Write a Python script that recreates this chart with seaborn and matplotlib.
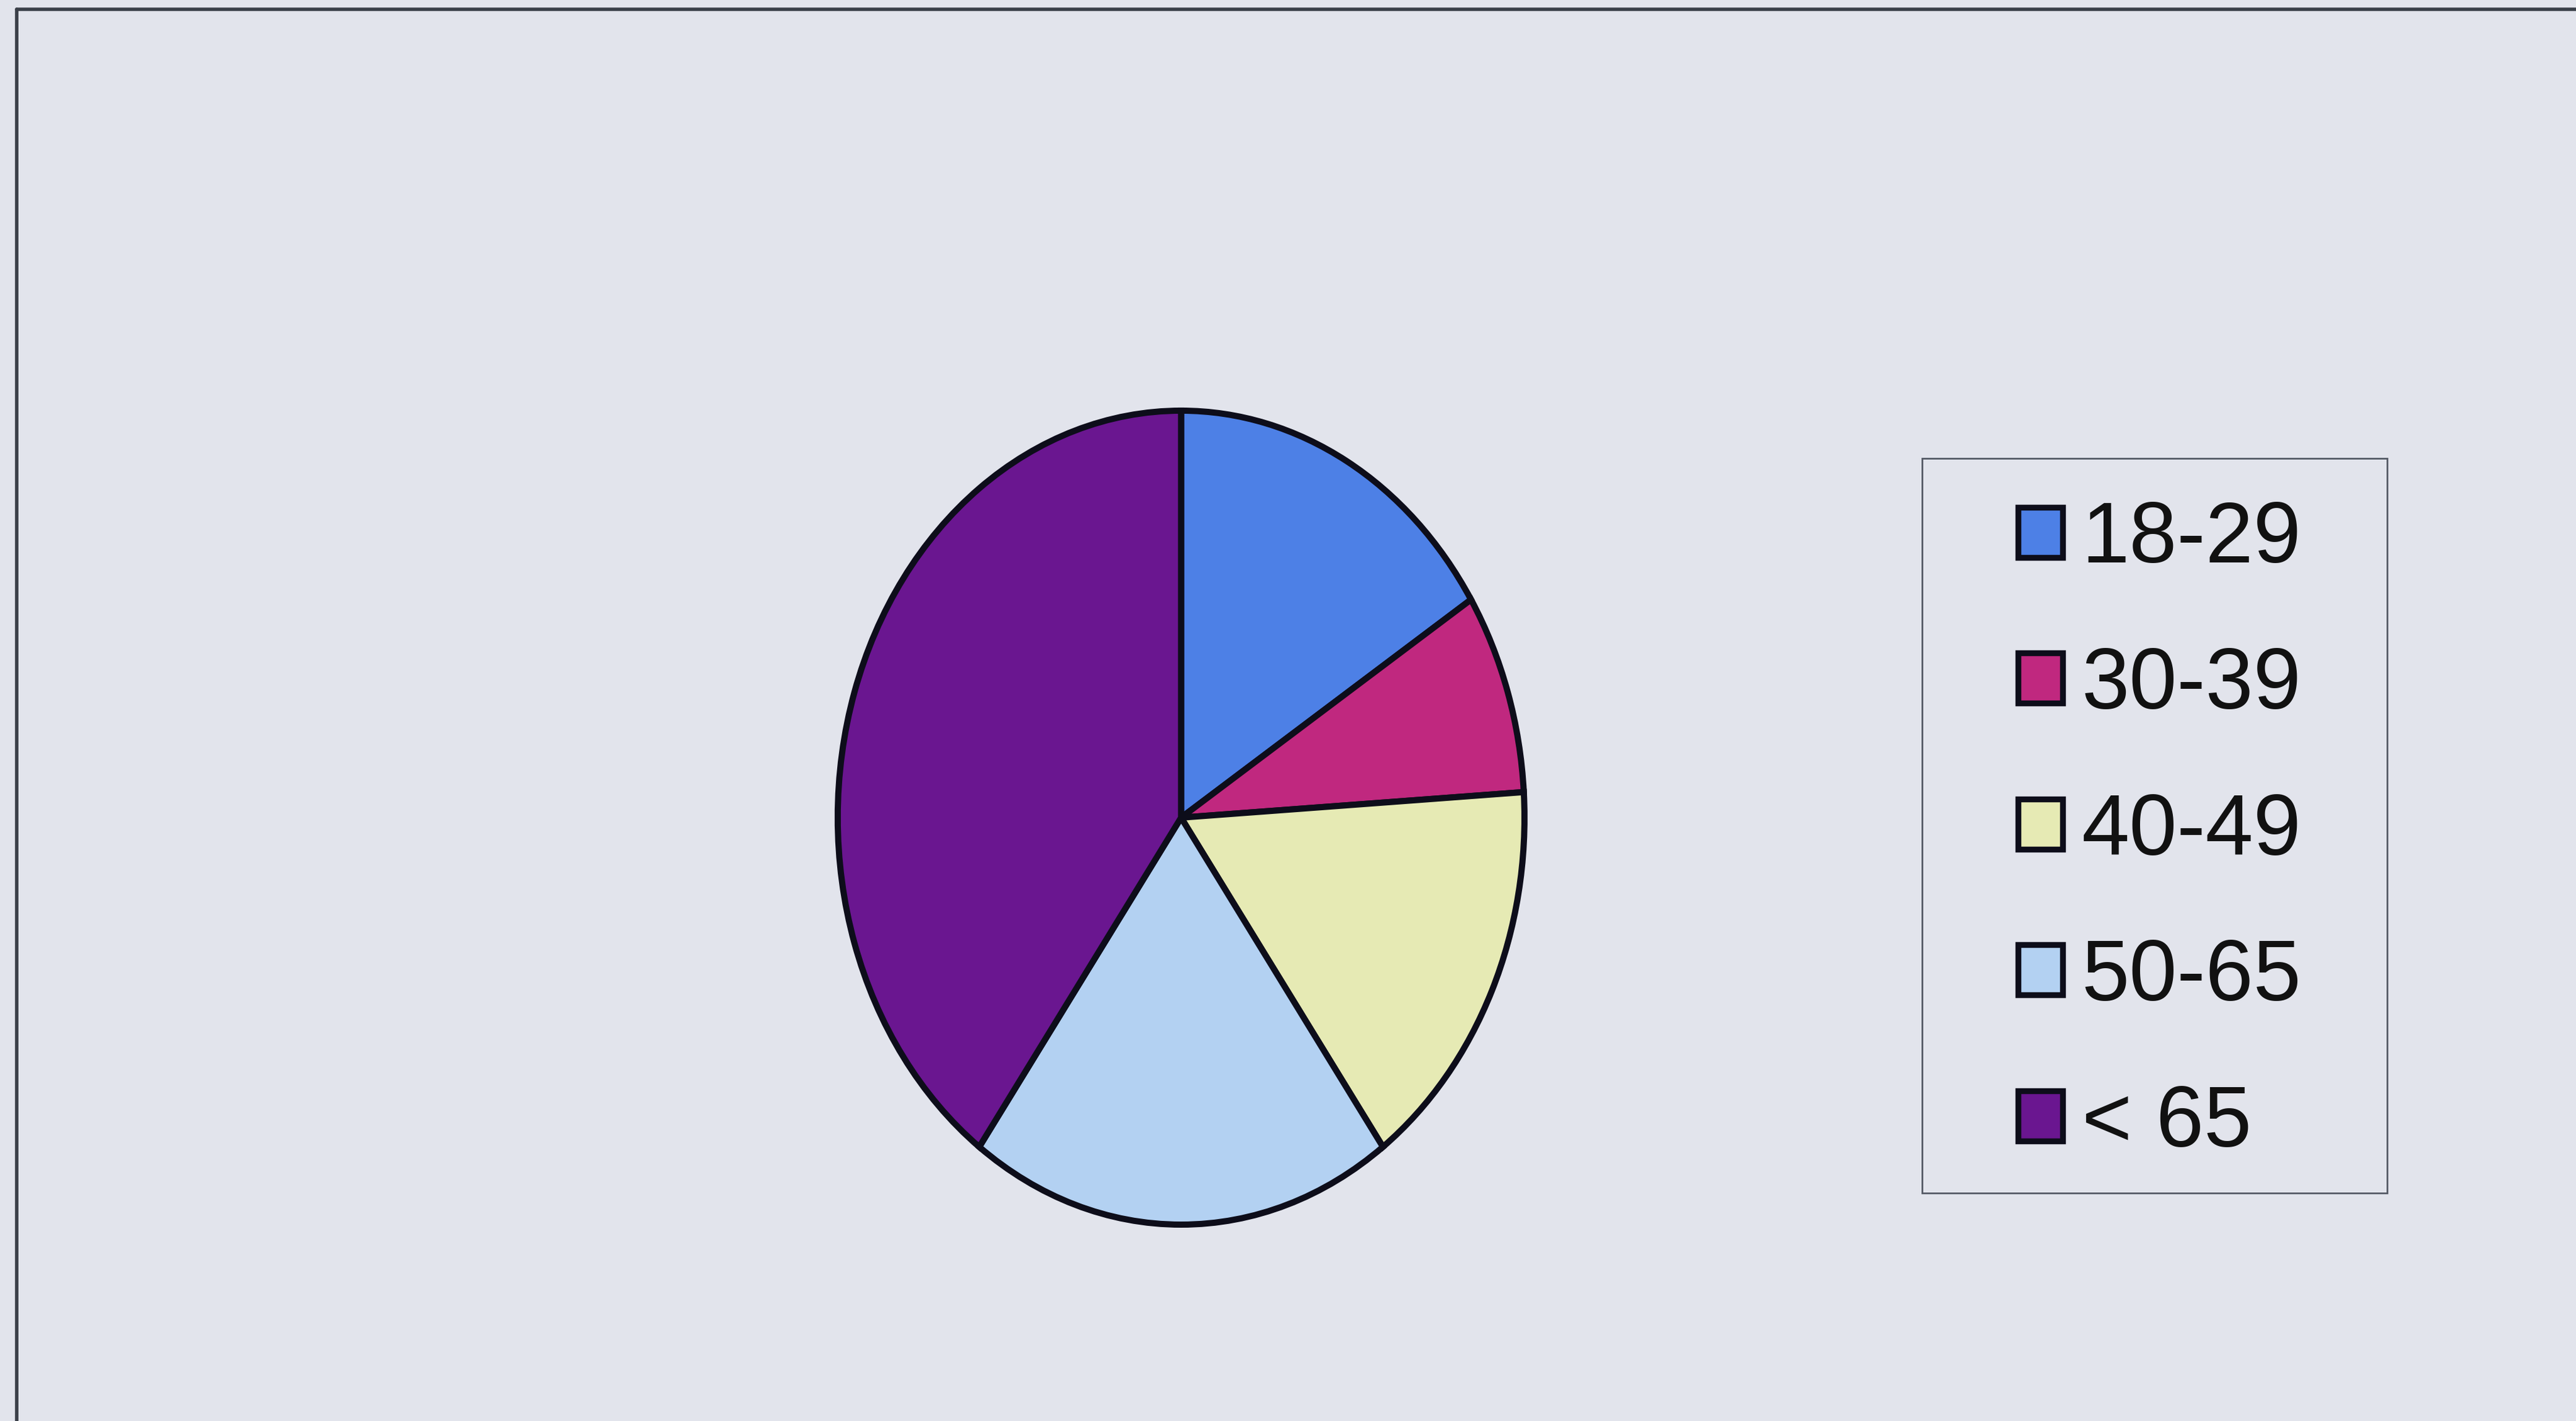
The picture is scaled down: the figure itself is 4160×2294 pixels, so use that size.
import matplotlib
matplotlib.use("Agg")
import matplotlib.pyplot as plt
import seaborn as sns
from matplotlib.patches import Patch, Rectangle
from matplotlib.lines import Line2D

categories = ["18-29", "30-39", "40-49", "50-65", "< 65"]
shares = [16, 8, 16, 20, 40]
slice_colors = ["#4D80E6", "#C0287F", "#E6EAB4", "#B3D1F2", "#6A1690"]

sns.set_theme(style="white")
plt.rcParams["font.family"] = ["Liberation Sans", "DejaVu Sans"]

bg = "#E2E4EC"
edge = "#0d0d1a"
fig = plt.figure(figsize=(20.8, 11.47), dpi=200)
fig.patch.set_facecolor(bg)

ax = fig.add_axes([0.3252, 0.1382, 0.2666, 0.5728])
ax.set_facecolor(bg)
palette = sns.color_palette(slice_colors)
wedges, _ = ax.pie(shares, colors=palette, startangle=90, counterclock=False,
                   wedgeprops=dict(edgecolor=edge, linewidth=3.6))
ax.set_aspect("auto")
ax.set_xlim(-1.0, 1.0)
ax.set_ylim(-1.0, 1.0)
ax.axis("off")

# outer frame (top and left edges visible)
fig.add_artist(Line2D([27/4160, 1.0], [1-15/2294, 1-15/2294], transform=fig.transFigure,
                      color="#3a3f48", linewidth=2.0))
fig.add_artist(Line2D([27/4160, 27/4160], [0.0, 1-15/2294], transform=fig.transFigure,
                      color="#3a3f48", linewidth=2.0))

# legend box
lx0, ly0, lx1, ly1 = 3104/4160, 1-1926/2294, 3855/4160, 1-740/2294
fig.add_artist(Rectangle((lx0, ly0), lx1-lx0, ly1-ly0, transform=fig.transFigure,
                         facecolor=bg, edgecolor="#555a66", linewidth=1.0))

handles = [Patch(facecolor=c, edgecolor=edge, linewidth=3.4) for c in palette]
leg = fig.legend(handles, categories, loc="center",
                 bbox_to_anchor=((lx0+lx1)/2 + 0.002, (ly0+ly1)/2 - 0.0046),
                 frameon=False, fontsize=50, handlelength=0.52, handleheight=0.52,
                 handletextpad=0.22, labelspacing=0.76, borderpad=0)
for t in leg.get_texts():
    t.set_color("#111111")

fig.savefig("out.png", dpi=200, facecolor=bg)
